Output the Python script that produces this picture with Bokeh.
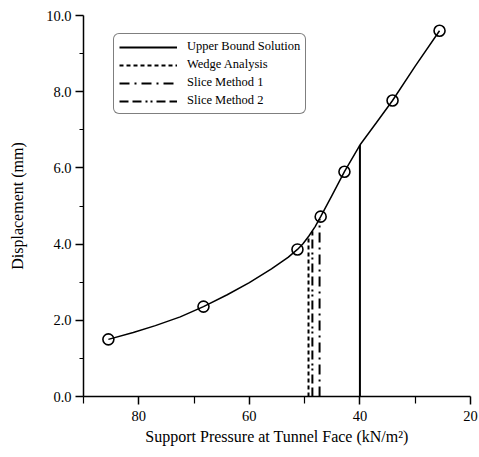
from bokeh.plotting import figure
from bokeh.models import (Range1d, FixedTicker, Legend, LegendItem, NumeralTickFormatter)
from bokeh.embed import file_html
from bokeh.resources import INLINE

# --- data ---
pressure = [85.5, 68.3, 51.3, 47.1, 42.8, 34.1, 25.6]
displacement = [1.50, 2.36, 3.86, 4.72, 5.90, 7.77, 9.60]

curve_x = [85.5, 81.0, 77.0, 72.5, 68.3, 64.0, 60.0, 56.0, 53.0, 51.3, 50.3, 49.2, 48.1, 47.1,
           45.0, 42.8, 40.0, 37.0, 34.1, 30.0, 25.6]
curve_y = [1.50, 1.68, 1.86, 2.09, 2.36, 2.67, 2.99, 3.35, 3.65, 3.86, 4.01, 4.22, 4.46, 4.72,
           5.29, 5.90, 6.60, 7.19, 7.77, 8.67, 9.60]

methods = ["Upper Bound Solution", "Wedge Analysis", "Slice Method 1", "Slice Method 2"]
method_x = [40.0, 49.3, 47.3, 48.6]
method_top = [6.60, 4.20, 4.66, 4.34]
method_dash = ["solid", "4 3", "10 5 2 5", "9 4 9 4 2 3 2 4"]

x_major = [80, 60, 40, 20]
x_minor = [90, 70, 50, 30]
y_major = [0, 2, 4, 6, 8, 10]
y_minor = [1, 3, 5, 7, 9]

FONT = "Liberation Serif"

p = figure(width=478, height=456, output_backend="svg", toolbar_location=None,
           x_range=Range1d(90, 20), y_range=Range1d(0, 10),
           min_border_left=83, min_border_right=8, min_border_top=15, min_border_bottom=60)
p.outline_line_color = None
p.xgrid.visible = False
p.ygrid.visible = False

# vertical method lines
renderers = []
for name, mx, top, dash in zip(methods, method_x, method_top, method_dash):
    r = p.segment(x0=[mx], y0=[0], x1=[mx], y1=[top], line_color="black",
                  line_width=2, line_dash=dash)
    renderers.append(r)

# curve and points
p.line(curve_x, curve_y, line_color="black", line_width=1.5)
p.scatter(pressure, displacement, size=11, marker="circle", fill_alpha=0,
          line_color="black", line_width=1.6)

# axes
p.xaxis.ticker = FixedTicker(ticks=x_major, minor_ticks=x_minor)
p.yaxis.ticker = FixedTicker(ticks=y_major, minor_ticks=y_minor)
p.yaxis.formatter = NumeralTickFormatter(format="0.0")
p.xaxis.axis_label = "Support Pressure at Tunnel Face (kN/m²)"
p.yaxis.axis_label = "Displacement (mm)"
for ax in (p.xaxis[0], p.yaxis[0]):
    ax.axis_line_width = 1.5
    ax.axis_line_color = "black"
    ax.major_tick_line_color = "black"
    ax.minor_tick_line_color = "black"
    ax.major_tick_line_width = 1.5
    ax.minor_tick_line_width = 1.2
    ax.major_tick_in = 0
    ax.minor_tick_in = 0
    ax.major_label_text_font = FONT
    ax.major_label_text_font_size = "14.5px"
    ax.major_label_text_color = "black"
    ax.axis_label_text_font = FONT
    ax.axis_label_text_font_size = "16px"
    ax.axis_label_text_font_style = "normal"
    ax.axis_label_text_color = "black"
p.xaxis.major_tick_out = 8
p.xaxis.minor_tick_out = 7
p.yaxis.major_tick_out = 8
p.yaxis.minor_tick_out = 4
p.xaxis.major_label_standoff = 6
p.xaxis.axis_label_standoff = 4
p.yaxis.major_label_standoff = 4
p.yaxis.axis_label_standoff = 17

legend = Legend(items=[LegendItem(label=n, renderers=[r]) for n, r in zip(methods, renderers)],
                location=(30, 282), orientation="vertical")
legend.label_text_font = FONT
legend.label_text_font_size = "12.5px"
legend.label_text_color = "black"
legend.glyph_width = 58
legend.glyph_height = 14
legend.label_height = 14
legend.spacing = 3
legend.padding = 5
legend.margin = 0
legend.label_standoff = 10
legend.border_line_color = "black"
legend.border_line_width = 1.5
legend.background_fill_alpha = 1
try:
    legend.border_radius = 6
except Exception:
    pass
p.add_layout(legend)

open("out.html", "w").write(file_html(p, INLINE))
